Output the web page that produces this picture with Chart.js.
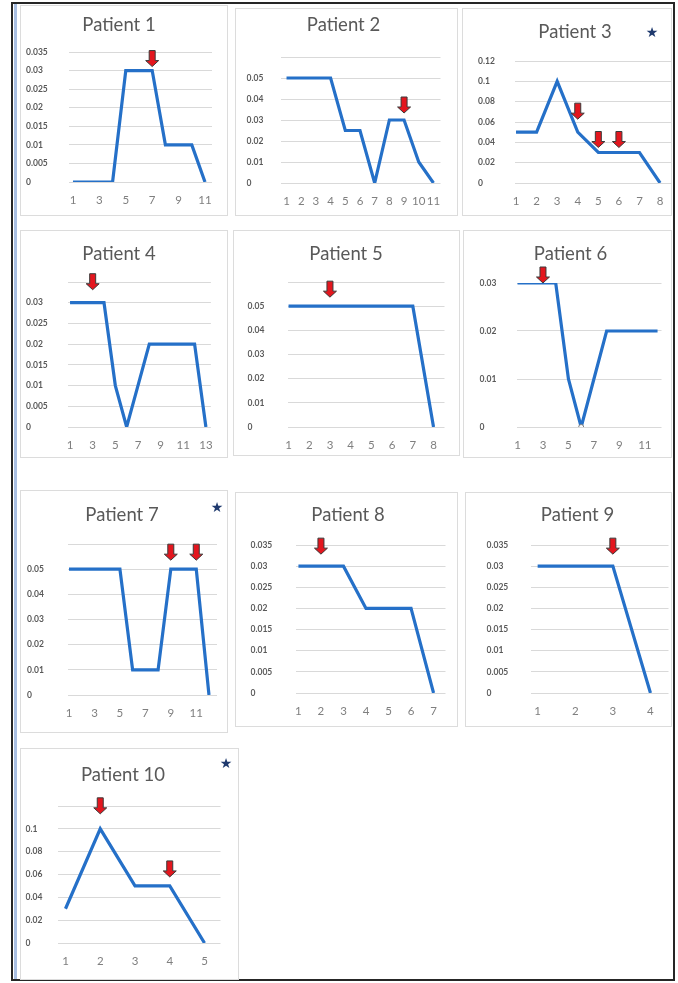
<!DOCTYPE html>
<html>
<head>
<meta charset="utf-8">
<script src="https://cdn.jsdelivr.net/npm/chart.js@4.4.1/dist/chart.umd.min.js"></script>
<style>
  body { margin: 0; background: #fff; width: 678px; height: 983px; position: relative; overflow: hidden; font-family: Lato, sans-serif; }
  .frame { position: absolute; left: 11px; top: 2px; width: 664px; height: 979px; border: 2px solid #262626; box-sizing: border-box; }
  .inner { position: absolute; left: 14px; top: 4px; width: 3px; height: 975px; background: #a9bfe2; }
  .box { position: absolute; border: 1px solid #dcdcdc; box-sizing: border-box; }
  canvas { position: absolute; }
  .star { position: absolute; color: #1f3a6e; font-size: 14px; line-height: 1; transform: translate(-50%, -50%); font-family: "DejaVu Sans", sans-serif; }
</style>
</head>
<body>
<div class="frame"></div>
<div class="inner"></div>
<script>
// values
const titles = ['Patient 1', 'Patient 2', 'Patient 3', 'Patient 4', 'Patient 5',
                'Patient 6', 'Patient 7', 'Patient 8', 'Patient 9', 'Patient 10'];

const patient1 = [0, 0, 0, 0, 0.03, 0.03, 0.03, 0.01, 0.01, 0.01, 0];
const patient2 = [0.05, 0.05, 0.05, 0.05, 0.025, 0.025, 0, 0.03, 0.03, 0.01, 0];
const patient3 = [0.05, 0.05, 0.1, 0.05, 0.03, 0.03, 0.03, 0];
const patient4 = [0.03, 0.03, 0.03, 0.03, 0.01, 0, 0.01, 0.02, 0.02, 0.02, 0.02, 0.02, 0];
const patient5 = [0.05, 0.05, 0.05, 0.05, 0.05, 0.05, 0.05, 0];
const patient6 = [0.03, 0.03, 0.03, 0.03, 0.01, 0, 0.01, 0.02, 0.02, 0.02, 0.02, 0.02];
const patient7 = [0.05, 0.05, 0.05, 0.05, 0.05, 0.01, 0.01, 0.01, 0.05, 0.05, 0.05, 0];
const patient8 = [0.03, 0.03, 0.03, 0.02, 0.02, 0.02, 0];
const patient9 = [0.03, 0.03, 0.03, 0];
const patient10 = [0.03, 0.1, 0.05, 0.05, 0];
const series = [patient1, patient2, patient3, patient4, patient5,
                patient6, patient7, patient8, patient9, patient10];

// x categories are 1..n for every patient
const days = series.map(s => s.map((v, i) => i + 1));

const xTicks = [
  [1, 3, 5, 7, 9, 11],
  [1, 2, 3, 4, 5, 6, 7, 8, 9, 10, 11],
  [1, 2, 3, 4, 5, 6, 7, 8],
  [1, 3, 5, 7, 9, 11, 13],
  [1, 2, 3, 4, 5, 6, 7, 8],
  [1, 3, 5, 7, 9, 11],
  [1, 3, 5, 7, 9, 11],
  [1, 2, 3, 4, 5, 6, 7],
  [1, 2, 3, 4],
  [1, 2, 3, 4, 5]
];
const yTicks = [
  [0, 0.005, 0.01, 0.015, 0.02, 0.025, 0.03, 0.035],
  [0, 0.01, 0.02, 0.03, 0.04, 0.05, 0.06],
  [0, 0.02, 0.04, 0.06, 0.08, 0.1, 0.12],
  [0, 0.005, 0.01, 0.015, 0.02, 0.025, 0.03, 0.035],
  [0, 0.01, 0.02, 0.03, 0.04, 0.05, 0.06],
  [0, 0.01, 0.02, 0.03],
  [0, 0.01, 0.02, 0.03, 0.04, 0.05, 0.06],
  [0, 0.005, 0.01, 0.015, 0.02, 0.025, 0.03, 0.035],
  [0, 0.005, 0.01, 0.015, 0.02, 0.025, 0.03, 0.035],
  [0, 0.02, 0.04, 0.06, 0.08, 0.1, 0.12]
];
const yTopHidden = [false, true, false, true, true, false, true, false, false, true];

const arrows = [[7], [9], [4, 5, 6], [3], [3], [3], [9, 11], [2], [3], [2, 4]];
const markers = [[], [], [], [], [], [6], [], [], [], []];
const starred = [3, 7, 10];

// layout (page pixels)
const boxes = [[20, 5, 208, 211], [235, 8, 223, 208], [462, 8, 210, 208],
               [20, 230, 208, 228], [233, 230, 227, 226], [463, 230, 209, 228],
               [20, 490, 208, 243], [235, 492, 223, 235], [465, 492, 207, 235],
               [20, 748, 219, 232]];
const plots = [[69, 52, 212, 182], [280, 57, 440, 183], [515, 61, 672, 183],
               [68, 282, 212, 427], [287, 282, 444, 427], [516, 283, 661, 427],
               [68, 544, 217, 695], [295, 545, 445, 693], [530, 545, 668, 693],
               [57, 806, 220, 943]];
const titleX = [121, 352, 573, 120, 351, 571, 122, 349, 576, 118];
const titleY = [25, 25, 32, 254, 254, 254, 515, 515, 515, 775];
const labelLeft = [26, 246, 478, 26, 247, 479, 27, 250, 486, 25];
const xRange = [[0.70, 11.53], [0.59, 11.48], [0.95, 8.58], [0.82, 13.44], [0.95, 8.53],
                [0.92, 12.31], [0.92, 12.63], [0.87, 7.53], [0.81, 4.48], [0.77, 5.46]];
const arrowGap = [[4], [7], [13, 5, 5], [13], [9], [0], [9, 9], [12], [12], [15, 9]];
const starPos = [[652, 32], [217, 507], [226, 763]];

Chart.defaults.font.family = 'Lato';

function arrowPlugin(p) {
  return {
    id: 'arrows' + p,
    afterDatasetsDraw: function(chart) {
      var ctx = chart.ctx;
      var xs = chart.scales.x, ys = chart.scales.y;
      arrows[p].forEach(function(d, k) {
        var i = days[p].indexOf(d);
        var px = xs.getPixelForValue(d);
        var py = ys.getPixelForValue(series[p][i]) - arrowGap[p][k];
        ctx.save();
        ctx.beginPath();
        ctx.moveTo(px, py);
        ctx.lineTo(px - 6.5, py - 6);
        ctx.lineTo(px - 3, py - 6);
        ctx.lineTo(px - 3, py - 16);
        ctx.lineTo(px + 3, py - 16);
        ctx.lineTo(px + 3, py - 6);
        ctx.lineTo(px + 6.5, py - 6);
        ctx.closePath();
        ctx.fillStyle = '#e3161e';
        ctx.fill();
        ctx.strokeStyle = '#3a3a3a';
        ctx.lineWidth = 1;
        ctx.stroke();
        ctx.restore();
      });
    }
  };
}

for (let p = 0; p < titles.length; p++) {
  const [bl, bt, bw, bh] = boxes[p];
  const [pl, ptop, pr, pb] = plots[p];

  const box = document.createElement('div');
  box.className = 'box';
  box.style.left = bl + 'px';
  box.style.top = bt + 'px';
  box.style.width = bw + 'px';
  box.style.height = bh + 'px';
  document.body.appendChild(box);

  const cw = bw, ch = bh;
  const cl = titleX[p] - cw / 2, ct = bt;
  const cv = document.createElement('canvas');
  cv.width = cw;
  cv.height = ch;
  cv.style.left = cl + 'px';
  cv.style.top = ct + 'px';
  document.body.appendChild(cv);

  const yt = yTicks[p];

  new Chart(cv, {
    type: 'line',
    data: {
      datasets: [{
        data: days[p].map((d, i) => ({ x: d, y: series[p][i] })),
        borderColor: '#2570c8',
        borderWidth: 3.2,
        tension: 0,
        pointRadius: ctx => markers[p].includes(days[p][ctx.dataIndex]) ? 2.5 : 0,
        pointBackgroundColor: '#fff',
        pointBorderColor: '#808080',
        pointBorderWidth: 1
      }]
    },
    options: {
      responsive: false,
      animation: false,
      devicePixelRatio: 1,
      layout: { padding: { left: labelLeft[p] - cl, right: cl + cw - pr, top: 0, bottom: 0 } },
      plugins: {
        legend: { display: false },
        tooltip: { enabled: false },
        title: {
          display: true,
          text: titles[p],
          color: '#595959',
          font: { size: 18.5, weight: 'normal', lineHeight: 1.2 },
          padding: { top: titleY[p] - ct - 11.1, bottom: ptop - titleY[p] - 11.1 }
        }
      },
      scales: {
        x: {
          type: 'linear',
          min: xRange[p][0],
          max: xRange[p][1],
          grid: { display: false, drawTicks: false },
          border: { display: false },
          afterBuildTicks: s => { s.ticks = xTicks[p].map(v => ({ value: v })); },
          afterFit: s => { s.height = ct + ch - pb; },
          ticks: {
            autoSkip: false,
            maxRotation: 0,
            padding: 11,
            color: '#7f7f7f',
            font: { size: 11.5 },
            callback: v => String(v)
          }
        },
        y: {
          min: 0,
          max: yt[yt.length - 1],
          grid: { color: '#d9d9d9', lineWidth: 1, drawTicks: false },
          border: { display: false },
          afterBuildTicks: s => { s.ticks = yt.map(v => ({ value: v })); },
          afterFit: s => { s.width = pl - labelLeft[p]; },
          ticks: {
            crossAlign: 'far',
            padding: 0,
            color: '#595959',
            font: { size: 8.5, weight: 'bold' },
            callback: (v, i, t) => (yTopHidden[p] && i === t.length - 1) ? '' : String(v)
          }
        }
      }
    },
    plugins: [arrowPlugin(p)]
  });
}

starred.forEach(function(n, k) {
  var s = document.createElement('div');
  s.className = 'star';
  s.textContent = '★';
  s.style.left = starPos[k][0] + 'px';
  s.style.top = starPos[k][1] + 'px';
  document.body.appendChild(s);
});
</script>
</body>
</html>
